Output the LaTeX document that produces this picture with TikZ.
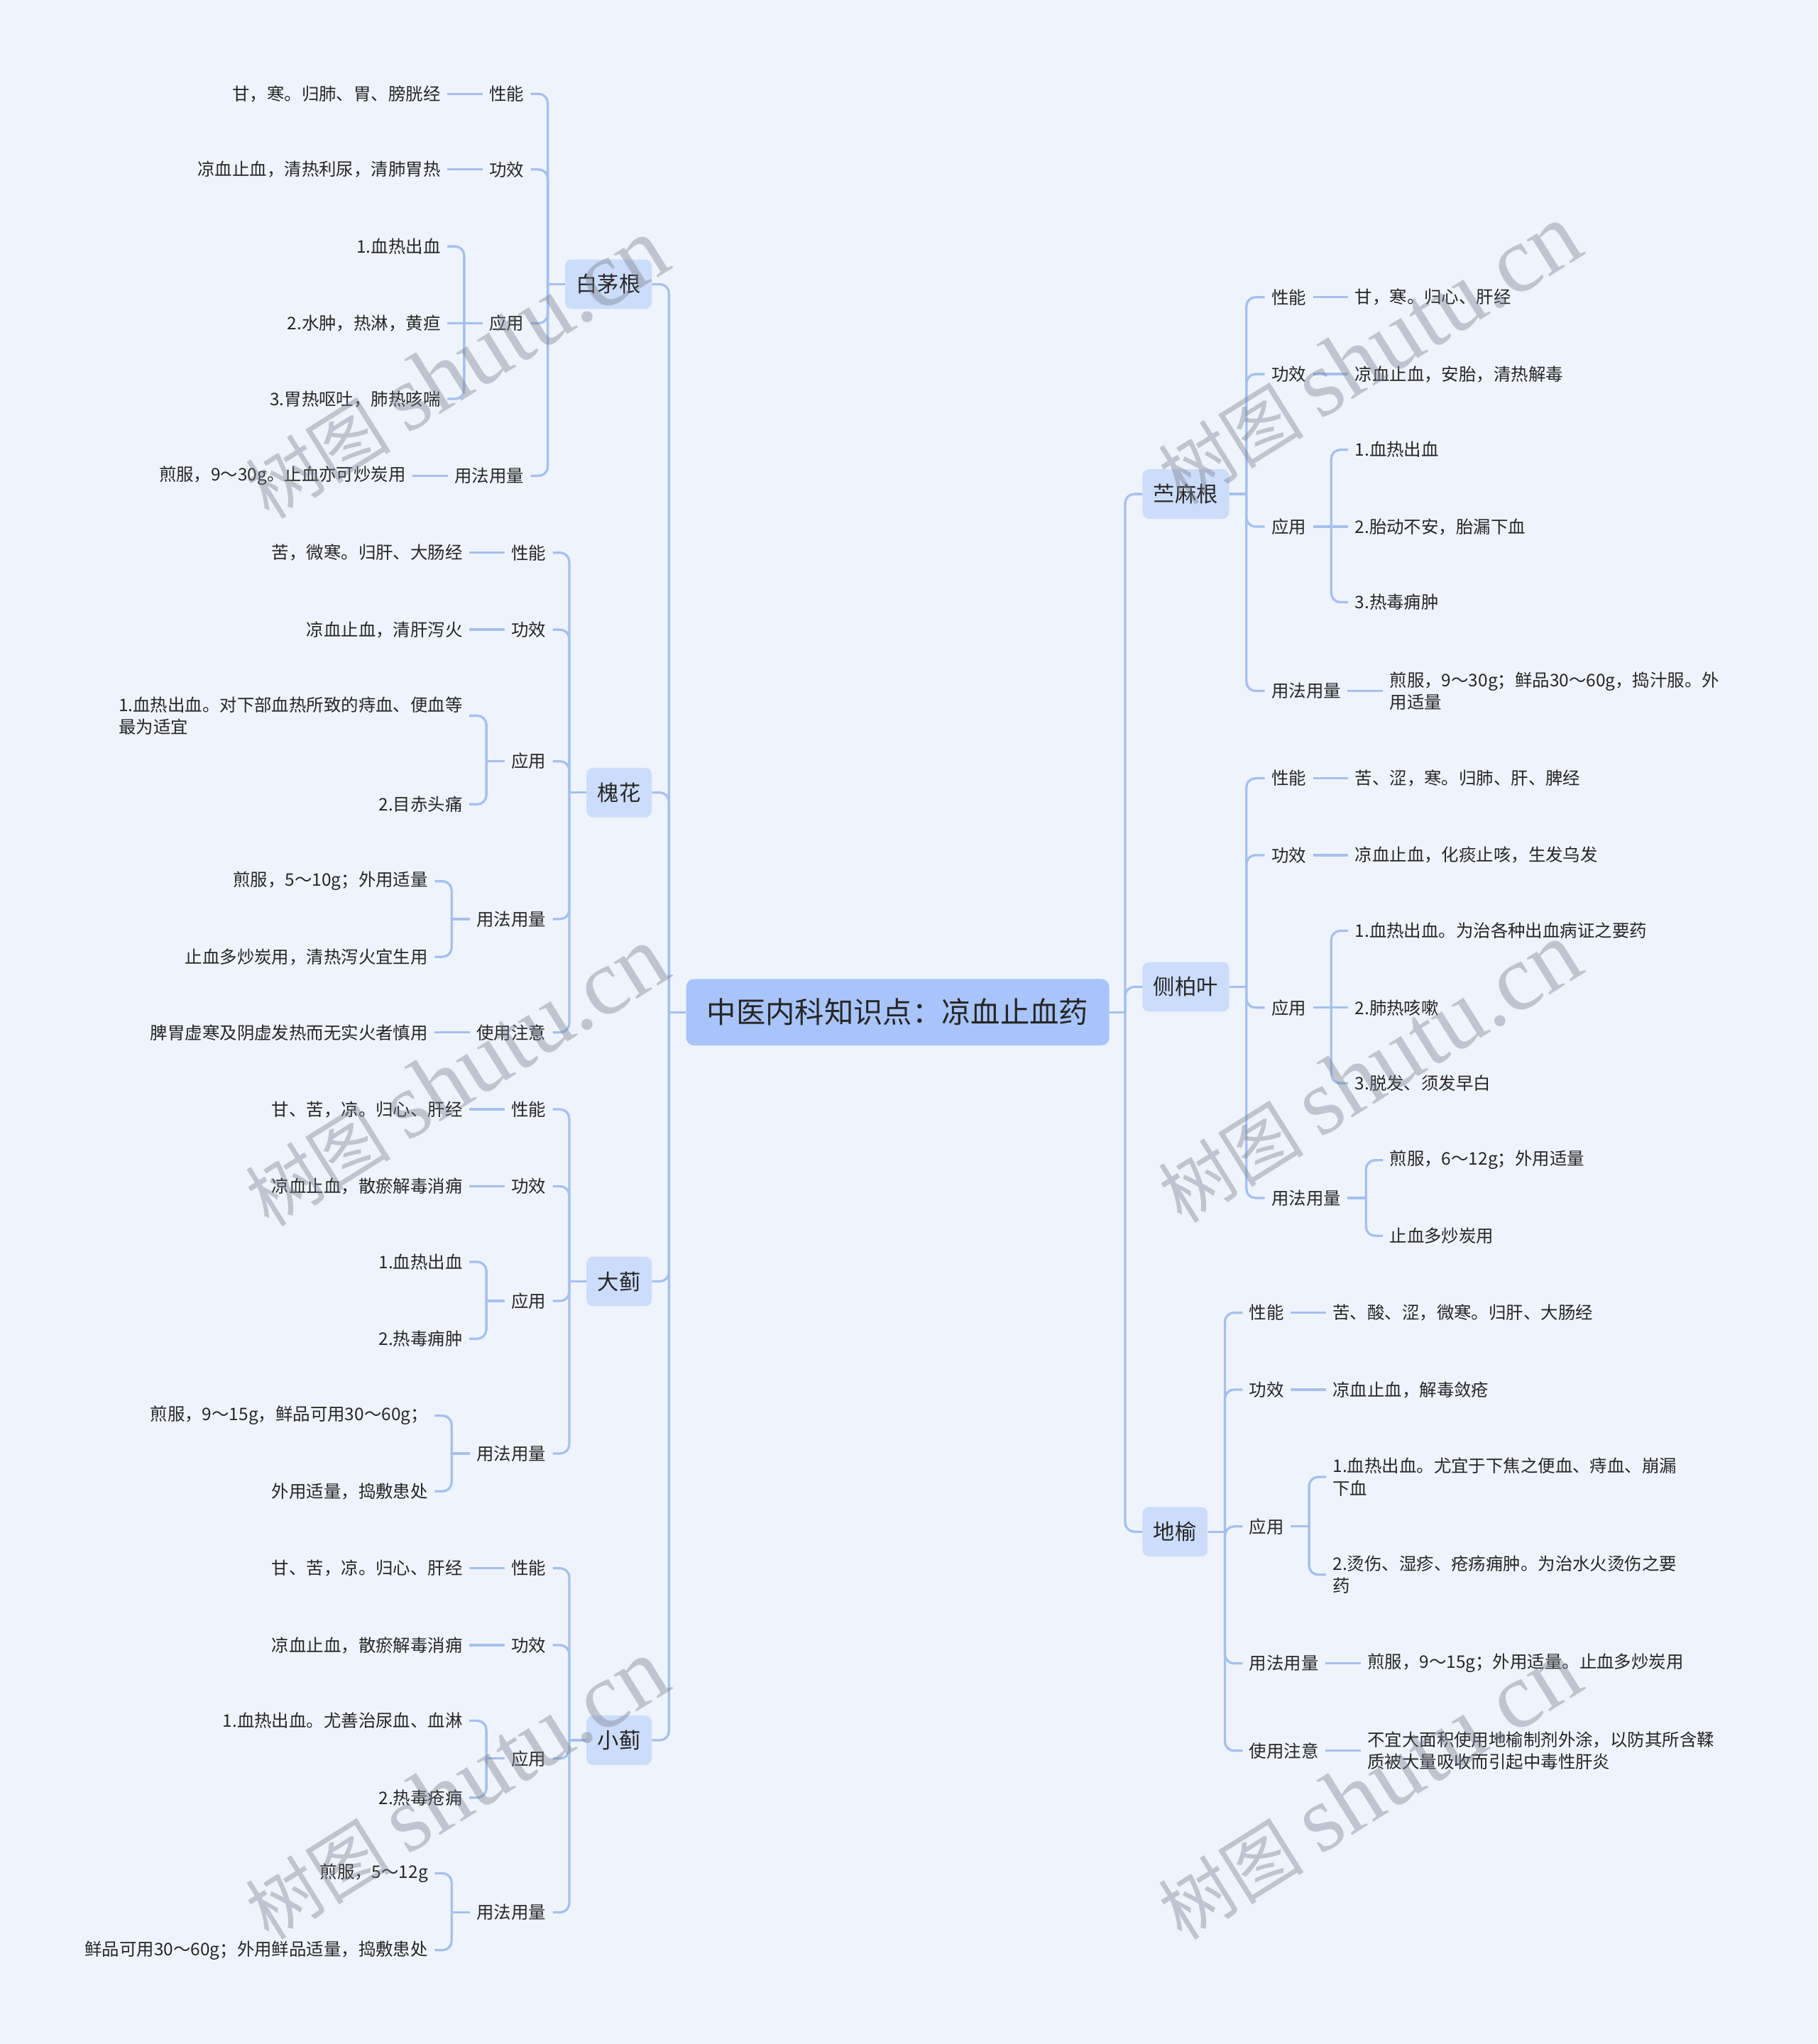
\documentclass[tikz,border=0pt]{standalone}
\usepackage{fontspec}
\setmainfont{Noto Sans CJK SC}
\newfontfamily\wmserif{Liberation Serif}
\usetikzlibrary{positioning,calc}
\definecolor{bgc}{RGB}{239,244,252}
\definecolor{lc}{RGB}{166,192,238}
\definecolor{rootc}{RGB}{169,196,250}
\definecolor{l1c}{RGB}{204,220,251}
\definecolor{tc}{RGB}{38,38,38}
\definecolor{wmc}{RGB}{120,126,138}
\begin{document}
\begin{tikzpicture}[x=1pt,y=-1pt,
  conn/.style={draw=lc, line width=1.8pt},
  br/.style={conn, rounded corners=7pt},
  root/.style={fill=rootc, rounded corners=6pt, text=tc, font=\fontsize{22.5pt}{27pt}\selectfont, minimum height=51pt, inner xsep=16pt, inner ysep=0pt},
  topic/.style={fill=l1c, rounded corners=5pt, text=tc, font=\fontsize{16.5pt}{20pt}\selectfont, minimum height=38pt, inner xsep=8.5pt, inner ysep=0pt},
  lab/.style={text=tc, font=\fontsize{13.3pt}{17pt}\selectfont, inner xsep=5pt, inner ysep=2pt},
  lt/.style={lab, align=left},
  wm/.style={text=wmc, text opacity=0.4, inner sep=0pt, rotate=32},
]
\useasboundingbox (0,0) rectangle (1394,1568);
\fill[bgc] (0,0) rectangle (1394,1568);

% ---------- root and topics ----------
\node[root] (c) at (688.5,776.5) {中医内科知识点：凉血止血药};
\node[topic, anchor=east] (bmg) at (500,218) {白茅根};
\node[topic, anchor=east] (hh) at (500,608) {槐花};
\node[topic, anchor=east] (dj) at (500,983) {大蓟};
\node[topic, anchor=east] (xj) at (500,1335) {小蓟};
\node[topic, anchor=west] (zmg) at (876,379) {苎麻根};
\node[topic, anchor=west] (cby) at (876,757) {侧柏叶};
\node[topic, anchor=west] (dy) at (876,1175) {地榆};

\coordinate (cL) at ($(c.west)+(-13,0)$);
\coordinate (cR) at ($(c.east)+(12,0)$);
\draw[conn] (c.west) -- (cL);
\draw[conn] (c.east) -- (cR);
\foreach \n in {bmg,hh,dj,xj} \draw[br] (cL) |- (\n.east);
\foreach \n in {zmg,cby,dy} \draw[br] (cR) |- (\n.west);

% ---------- 白茅根 ----------
\node[lab, anchor=east] (a1) at (407,72) {性能};
\node[lab, anchor=east] (a2) at (407,130) {功效};
\node[lab, anchor=east] (a3) at (407,248) {应用};
\node[lab, anchor=east] (a4) at (407,365) {用法用量};
\node[lab, left=27pt of a1] (a1t) {甘，寒。归肺、胃、膀胱经};
\node[lab, left=27pt of a2] (a2t) {凉血止血，清热利尿，清肺胃热};
\node[lab, left=27pt of a4] (a4t) {煎服，9～30g。止血亦可炒炭用};
\node[lab, anchor=east] (a3a) at ($(a3.west)+(-27,189-248)$) {1.血热出血};
\node[lab, anchor=east] (a3b) at ($(a3.west)+(-27,0)$) {2.水肿，热淋，黄疸};
\node[lab, anchor=east] (a3c) at ($(a3.west)+(-27,306-248)$) {3.胃热呕吐，肺热咳喘};
\coordinate (aT) at ($(bmg.west)+(-13,0)$);
\draw[conn] (bmg.west) -- (aT);
\foreach \n in {a1,a2,a3,a4} \draw[br] (aT) |- (\n.east);
\draw[conn] (a1.west) -- (a1t.east);
\draw[conn] (a2.west) -- (a2t.east);
\draw[conn] (a4.west) -- (a4t.east);
\coordinate (a3B) at ($(a3.west)+(-14,0)$);
\draw[conn] (a3.west) -- (a3b.east);
\draw[br] (a3B) |- (a3a.east);
\draw[br] (a3B) |- (a3c.east);

% ---------- 槐花 ----------
\node[lab, anchor=east] (b1) at (424,424) {性能};
\node[lab, anchor=east] (b2) at (424,483) {功效};
\node[lab, anchor=east] (b3) at (424,584) {应用};
\node[lab, anchor=east] (b4) at (424,705) {用法用量};
\node[lab, anchor=east] (b5) at (424,792) {使用注意};
\node[lab, left=27pt of b1] (b1t) {苦，微寒。归肝、大肠经};
\node[lab, left=27pt of b2] (b2t) {凉血止血，清肝泻火};
\node[lab, left=27pt of b5] (b5t) {脾胃虚寒及阴虚发热而无实火者慎用};
\node[lt, anchor=east] (b3a) at ($(b3.west)+(-27,549-584)$) {1.血热出血。对下部血热所致的痔血、便血等\\最为适宜};
\node[lab, anchor=east] (b3b) at ($(b3.west)+(-27,617-584)$) {2.目赤头痛};
\node[lab, anchor=east] (b4a) at ($(b4.west)+(-27,676-705)$) {煎服，5～10g；外用适量};
\node[lab, anchor=east] (b4b) at ($(b4.west)+(-27,734-705)$) {止血多炒炭用，清热泻火宜生用};
\coordinate (bT) at ($(hh.west)+(-13,0)$);
\draw[conn] (hh.west) -- (bT);
\foreach \n in {b1,b2,b3,b4,b5} \draw[br] (bT) |- (\n.east);
\draw[conn] (b1.west) -- (b1t.east);
\draw[conn] (b2.west) -- (b2t.east);
\draw[conn] (b5.west) -- (b5t.east);
\coordinate (b3B) at ($(b3.west)+(-14,0)$);
\draw[conn] (b3.west) -- (b3B);
\draw[br] (b3B) |- (b3a.east);
\draw[br] (b3B) |- (b3b.east);
\coordinate (b4B) at ($(b4.west)+(-14,0)$);
\draw[conn] (b4.west) -- (b4B);
\draw[br] (b4B) |- (b4a.east);
\draw[br] (b4B) |- (b4b.east);

% ---------- 大蓟 ----------
\node[lab, anchor=east] (d1) at (424,851) {性能};
\node[lab, anchor=east] (d2) at (424,910) {功效};
\node[lab, anchor=east] (d3) at (424,998) {应用};
\node[lab, anchor=east] (d4) at (424,1115) {用法用量};
\node[lab, left=27pt of d1] (d1t) {甘、苦，凉。归心、肝经};
\node[lab, left=27pt of d2] (d2t) {凉血止血，散瘀解毒消痈};
\node[lab, anchor=east] (d3a) at ($(d3.west)+(-27,968-998)$) {1.血热出血};
\node[lab, anchor=east] (d3b) at ($(d3.west)+(-27,1027-998)$) {2.热毒痈肿};
\node[lab, anchor=east] (d4a) at ($(d4.west)+(-27,1086-1115)$) {煎服，9～15g，鲜品可用30～60g；};
\node[lab, anchor=east] (d4b) at ($(d4.west)+(-27,1144-1115)$) {外用适量，捣敷患处};
\coordinate (dT) at ($(dj.west)+(-13,0)$);
\draw[conn] (dj.west) -- (dT);
\foreach \n in {d1,d2,d3,d4} \draw[br] (dT) |- (\n.east);
\draw[conn] (d1.west) -- (d1t.east);
\draw[conn] (d2.west) -- (d2t.east);
\coordinate (d3B) at ($(d3.west)+(-14,0)$);
\draw[conn] (d3.west) -- (d3B);
\draw[br] (d3B) |- (d3a.east);
\draw[br] (d3B) |- (d3b.east);
\coordinate (d4B) at ($(d4.west)+(-14,0)$);
\draw[conn] (d4.west) -- (d4B);
\draw[br] (d4B) |- (d4a.east);
\draw[br] (d4B) |- (d4b.east);

% ---------- 小蓟 ----------
\node[lab, anchor=east] (x1) at (424,1203) {性能};
\node[lab, anchor=east] (x2) at (424,1262) {功效};
\node[lab, anchor=east] (x3) at (424,1349) {应用};
\node[lab, anchor=east] (x4) at (424,1467) {用法用量};
\node[lab, left=27pt of x1] (x1t) {甘、苦，凉。归心、肝经};
\node[lab, left=27pt of x2] (x2t) {凉血止血，散瘀解毒消痈};
\node[lab, anchor=east] (x3a) at ($(x3.west)+(-27,1320-1349)$) {1.血热出血。尤善治尿血、血淋};
\node[lab, anchor=east] (x3b) at ($(x3.west)+(-27,1379-1349)$) {2.热毒疮痈};
\node[lab, anchor=east] (x4a) at ($(x4.west)+(-27,1437-1467)$) {煎服，5～12g};
\node[lab, anchor=east] (x4b) at ($(x4.west)+(-27,1496-1467)$) {鲜品可用30～60g；外用鲜品适量，捣敷患处};
\coordinate (xT) at ($(xj.west)+(-13,0)$);
\draw[conn] (xj.west) -- (xT);
\foreach \n in {x1,x2,x3,x4} \draw[br] (xT) |- (\n.east);
\draw[conn] (x1.west) -- (x1t.east);
\draw[conn] (x2.west) -- (x2t.east);
\coordinate (x3B) at ($(x3.west)+(-14,0)$);
\draw[conn] (x3.west) -- (x3B);
\draw[br] (x3B) |- (x3a.east);
\draw[br] (x3B) |- (x3b.east);
\coordinate (x4B) at ($(x4.west)+(-14,0)$);
\draw[conn] (x4.west) -- (x4B);
\draw[br] (x4B) |- (x4a.east);
\draw[br] (x4B) |- (x4b.east);

% ---------- 苎麻根 ----------
\node[lab, anchor=west] (e1) at (970,228) {性能};
\node[lab, anchor=west] (e2) at (970,287) {功效};
\node[lab, anchor=west] (e3) at (970,404) {应用};
\node[lab, anchor=west] (e4) at (970,530) {用法用量};
\node[lab, right=27pt of e1] (e1t) {甘，寒。归心、肝经};
\node[lab, right=27pt of e2] (e2t) {凉血止血，安胎，清热解毒};
\node[lt, right=27pt of e4] (e4t) {煎服，9～30g；鲜品30～60g，捣汁服。外\\用适量};
\node[lab, anchor=west] (e3a) at ($(e3.east)+(27,345-404)$) {1.血热出血};
\node[lab, anchor=west] (e3b) at ($(e3.east)+(27,0)$) {2.胎动不安，胎漏下血};
\node[lab, anchor=west] (e3c) at ($(e3.east)+(27,462-404)$) {3.热毒痈肿};
\coordinate (eT) at ($(zmg.east)+(13,0)$);
\draw[conn] (zmg.east) -- (eT);
\foreach \n in {e1,e2,e3,e4} \draw[br] (eT) |- (\n.west);
\draw[conn] (e1.east) -- (e1t.west);
\draw[conn] (e2.east) -- (e2t.west);
\draw[conn] (e4.east) -- (e4t.west);
\coordinate (e3B) at ($(e3.east)+(14,0)$);
\draw[conn] (e3.east) -- (e3b.west);
\draw[br] (e3B) |- (e3a.west);
\draw[br] (e3B) |- (e3c.west);

% ---------- 侧柏叶 ----------
\node[lab, anchor=west] (f1) at (970,597) {性能};
\node[lab, anchor=west] (f2) at (970,656) {功效};
\node[lab, anchor=west] (f3) at (970,773) {应用};
\node[lab, anchor=west] (f4) at (970,919) {用法用量};
\node[lab, right=27pt of f1] (f1t) {苦、涩，寒。归肺、肝、脾经};
\node[lab, right=27pt of f2] (f2t) {凉血止血，化痰止咳，生发乌发};
\node[lab, anchor=west] (f3a) at ($(f3.east)+(27,714-773)$) {1.血热出血。为治各种出血病证之要药};
\node[lab, anchor=west] (f3b) at ($(f3.east)+(27,0)$) {2.肺热咳嗽};
\node[lab, anchor=west] (f3c) at ($(f3.east)+(27,831-773)$) {3.脱发、须发早白};
\node[lab, anchor=west] (f4a) at ($(f4.east)+(27,890-919)$) {煎服，6～12g；外用适量};
\node[lab, anchor=west] (f4b) at ($(f4.east)+(27,948-919)$) {止血多炒炭用};
\coordinate (fT) at ($(cby.east)+(13,0)$);
\draw[conn] (cby.east) -- (fT);
\foreach \n in {f1,f2,f3,f4} \draw[br] (fT) |- (\n.west);
\draw[conn] (f1.east) -- (f1t.west);
\draw[conn] (f2.east) -- (f2t.west);
\coordinate (f3B) at ($(f3.east)+(14,0)$);
\draw[conn] (f3.east) -- (f3b.west);
\draw[br] (f3B) |- (f3a.west);
\draw[br] (f3B) |- (f3c.west);
\coordinate (f4B) at ($(f4.east)+(14,0)$);
\draw[conn] (f4.east) -- (f4B);
\draw[br] (f4B) |- (f4a.west);
\draw[br] (f4B) |- (f4b.west);

% ---------- 地榆 ----------
\node[lab, anchor=west] (g1) at (953,1007) {性能};
\node[lab, anchor=west] (g2) at (953,1066) {功效};
\node[lab, anchor=west] (g3) at (953,1171) {应用};
\node[lab, anchor=west] (g4) at (953,1276) {用法用量};
\node[lab, anchor=west] (g5) at (953,1343) {使用注意};
\node[lab, right=27pt of g1] (g1t) {苦、酸、涩，微寒。归肝、大肠经};
\node[lab, right=27pt of g2] (g2t) {凉血止血，解毒敛疮};
\node[lab, right=27pt of g4] (g4t) {煎服，9～15g；外用适量。止血多炒炭用};
\node[lt, right=27pt of g5] (g5t) {不宜大面积使用地榆制剂外涂，以防其所含鞣\\质被大量吸收而引起中毒性肝炎};
\node[lt, anchor=west] (g3a) at ($(g3.east)+(27,1133-1171)$) {1.血热出血。尤宜于下焦之便血、痔血、崩漏\\下血};
\node[lt, anchor=west] (g3b) at ($(g3.east)+(27,1208-1171)$) {2.烫伤、湿疹、疮疡痈肿。为治水火烫伤之要\\药};
\coordinate (gT) at ($(dy.east)+(13,0)$);
\draw[conn] (dy.east) -- (gT);
\foreach \n in {g1,g2,g3,g4,g5} \draw[br] (gT) |- (\n.west);
\draw[conn] (g1.east) -- (g1t.west);
\draw[conn] (g2.east) -- (g2t.west);
\draw[conn] (g4.east) -- (g4t.west);
\draw[conn] (g5.east) -- (g5t.west);
\coordinate (g3B) at ($(g3.east)+(14,0)$);
\draw[conn] (g3.east) -- (g3B);
\draw[br] (g3B) |- (g3a.west);
\draw[br] (g3B) |- (g3b.west);

% ---------- watermarks ----------
\foreach \wx/\wy [count=\i] in {350/283, 350/826, 350/1373, 1050/272, 1050/823, 1050/1373}
  \node[wm] (w\i) at (\wx,\wy) {\fontsize{56pt}{56pt}\selectfont 树图 {\wmserif\fontsize{72pt}{72pt}\selectfont shutu.cn}};
\end{tikzpicture}
\end{document}
